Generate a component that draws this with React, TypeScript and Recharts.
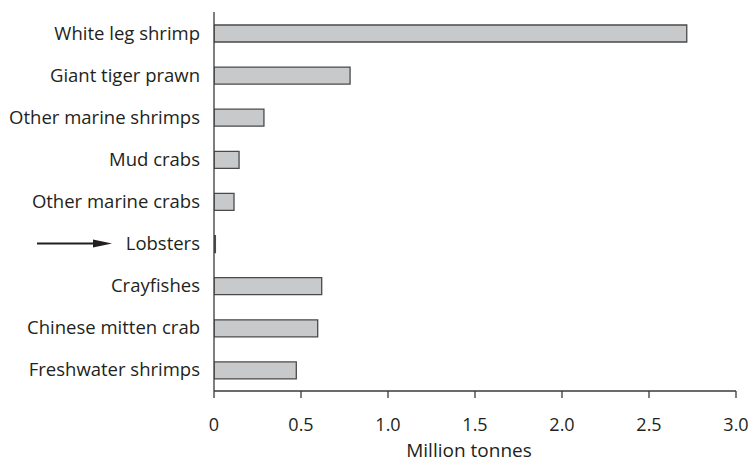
import React from "react";
import { BarChart, Bar, XAxis, YAxis, Label } from "recharts";

const categories = [
  "White leg shrimp",
  "Giant tiger prawn",
  "Other marine shrimps",
  "Mud crabs",
  "Other marine crabs",
  "Lobsters",
  "Crayfishes",
  "Chinese mitten crab",
  "Freshwater shrimps",
];
const production = [2.717, 0.782, 0.287, 0.144, 0.115, 0.008, 0.619, 0.596, 0.473];
const xTicks = [0, 0.5, 1.0, 1.5, 2.0, 2.5, 3.0];
const highlighted = "Lobsters";

const data = categories.map((name, i) => ({ name, value: production[i] }));

const FONT = "'Open Sans', sans-serif";

const YTick = (props: any) => {
  const { x, y, payload } = props;
  const isHi = payload.value === highlighted;
  return (
    <g>
      <text
        x={x}
        y={y - 1}
        textAnchor="end"
        dominantBaseline="central"
        fontFamily={FONT}
        fontSize={18.5}
        fill="#231f20"
      >
        {payload.value}
      </text>
      {isHi && (
        <g>
          <line x1={37} y1={y} x2={96} y2={y} stroke="#231f20" strokeWidth={2} />
          <path d={`M93,${y - 4} L112,${y} L93,${y + 4} Z`} fill="#231f20" />
        </g>
      )}
    </g>
  );
};

const XTick = (props: any) => {
  const { x, y, payload } = props;
  const v = payload.value as number;
  return (
    <text
      x={x}
      y={y + 31}
      textAnchor="middle"
      fontFamily={FONT}
      fontSize={18}
      fill="#231f20"
    >
      {v === 0 ? "0" : v.toFixed(1)}
    </text>
  );
};

export default function App() {
  return (
    <div style={{ position: "absolute", left: 0, top: 0, background: "#fff" }}>
      <BarChart
        width={751}
        height={463}
        data={data}
        layout="vertical"
        margin={{ top: 12, right: 15, bottom: 0, left: 0 }}
        barCategoryGap={0}
      >
        <XAxis
          type="number"
          domain={[0, 3]}
          ticks={xTicks}
          height={72}
          tickSize={7}
          axisLine={{ stroke: "#3a3a3a", strokeWidth: 1.3 }}
          tickLine={{ stroke: "#3a3a3a", strokeWidth: 1.3 }}
          tick={<XTick />}
          allowDataOverflow
        >
          <Label
            value="Million tonnes"
            position="insideBottom"
            offset={6}
            dx={-6}
            style={{ fontFamily: FONT, fontSize: 19, fill: "#231f20" }}
          />
        </XAxis>
        <YAxis
          type="category"
          dataKey="name"
          width={214}
          tickLine={false}
          axisLine={{ stroke: "#3a3a3a", strokeWidth: 1.3 }}
          tick={<YTick />}
          tickMargin={8}
          interval={0}
        />
        <Bar
          dataKey="value"
          fill="#c8c9cb"
          stroke="#4a4a4a"
          strokeWidth={1.3}
          barSize={17}
          isAnimationActive={false}
        />
      </BarChart>
    </div>
  );
}
